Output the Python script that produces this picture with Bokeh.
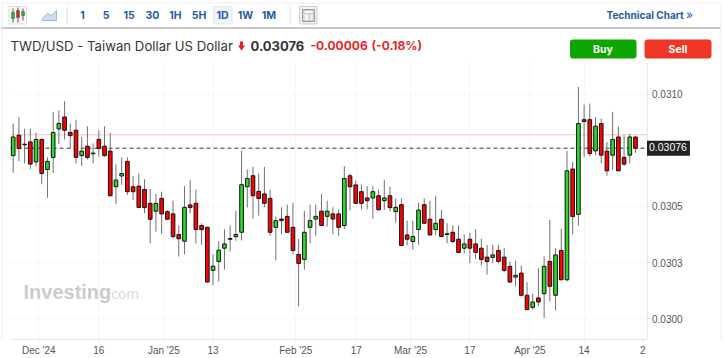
from bokeh.plotting import figure
from bokeh.layouts import column
from bokeh.models import Label, FixedTicker, ColumnDataSource, Range1d, LinearAxis
from bokeh.core.properties import value
from bokeh.embed import file_html
from bokeh.resources import INLINE

opens = [0.030727,0.030818,0.030778,0.030788,0.030699,0.030799,0.030665,0.030719,0.030846,0.030899,
0.030830,0.030840,0.030727,0.030769,0.030738,0.030799,0.030769,0.030747,0.030588,0.030636,
0.030701,0.030588,0.030591,0.030576,0.030514,0.030479,0.030536,0.030477,0.030467,0.030375,
0.030345,0.030507,0.030514,0.030415,0.030407,0.030215,0.030255,0.030314,0.030357,0.030366,
0.030385,0.030588,0.030637,0.030567,0.030556,0.030536,0.030407,0.030444,0.030456,0.030407,
0.030286,0.030264,0.030407,0.030444,0.030479,0.030456,0.030467,0.030467,0.030415,0.030637,
0.030596,0.030566,0.030538,0.030538,0.030548,0.030526,0.030548,0.030477,0.030508,0.030373,
0.030344,0.030397,0.030508,0.030443,0.030397,0.030443,0.030378,0.030385,0.030354,0.030314,
0.030354,0.030333,0.030314,0.030274,0.030273,0.030304,0.030274,0.030233,0.030185,0.030203,
0.030104,0.030050,0.030092,0.030111,0.030255,0.030104,0.030304,0.030173,0.030667,0.030465,
0.030887,0.030887,0.030748,0.030870,0.030747,0.030729,0.030810,0.030719,0.030729,0.030810]
closes = [0.030810,0.030759,0.030775,0.030689,0.030799,0.030647,0.030701,0.030830,0.030870,0.030840,
0.030816,0.030719,0.030747,0.030719,0.030735,0.030759,0.030727,0.030548,0.030618,0.030647,
0.030566,0.030566,0.030496,0.030495,0.030443,0.030514,0.030467,0.030443,0.030366,0.030356,
0.030496,0.030495,0.030397,0.030397,0.030163,0.030234,0.030305,0.030333,0.030354,0.030375,
0.030597,0.030625,0.030548,0.030536,0.030514,0.030385,0.030437,0.030437,0.030385,0.030304,
0.030246,0.030385,0.030437,0.030456,0.030415,0.030479,0.030444,0.030407,0.030625,0.030588,
0.030514,0.030514,0.030526,0.030566,0.030485,0.030538,0.030495,0.030496,0.030326,0.030354,
0.030366,0.030484,0.030425,0.030373,0.030425,0.030366,0.030375,0.030344,0.030295,0.030333,
0.030314,0.030295,0.030264,0.030255,0.030284,0.030255,0.030215,0.030163,0.030193,0.030104,
0.030040,0.030074,0.030074,0.030233,0.030144,0.030284,0.030173,0.030659,0.030455,0.030870,
0.030879,0.030736,0.030858,0.030729,0.030659,0.030799,0.030659,0.030689,0.030810,0.030760]
highs = [0.030870,0.030899,0.030847,0.030847,0.030828,0.030803,0.030719,0.030922,0.030929,0.030970,
0.030870,0.030887,0.030810,0.030858,0.030781,0.030840,0.030858,0.030828,0.030689,0.030719,
0.030719,0.030637,0.030647,0.030621,0.030578,0.030556,0.030566,0.030485,0.030526,0.030415,
0.030591,0.030618,0.030576,0.030425,0.030410,0.030287,0.030344,0.030399,0.030415,0.030480,
0.030748,0.030665,0.030677,0.030647,0.030677,0.030576,0.030455,0.030496,0.030508,0.030516,
0.030356,0.030480,0.030508,0.030508,0.030556,0.030526,0.030496,0.030487,0.030680,0.030647,
0.030615,0.030599,0.030591,0.030591,0.030576,0.030618,0.030588,0.030536,0.030536,0.030437,
0.030437,0.030517,0.030536,0.030526,0.030548,0.030484,0.030425,0.030415,0.030415,0.030375,
0.030384,0.030399,0.030356,0.030329,0.030329,0.030329,0.030314,0.030255,0.030258,0.030236,
0.030163,0.030111,0.030225,0.030277,0.030440,0.030314,0.030400,0.030748,0.030699,0.031033,
0.030954,0.030959,0.030899,0.030892,0.030788,0.030922,0.030858,0.030818,0.030825,0.030813]
lows = [0.030650,0.030702,0.030692,0.030667,0.030680,0.030599,0.030539,0.030650,0.030778,0.030799,
0.030759,0.030692,0.030681,0.030710,0.030692,0.030722,0.030722,0.030544,0.030510,0.030596,
0.030551,0.030529,0.030492,0.030470,0.030336,0.030388,0.030378,0.030440,0.030357,0.030277,
0.030287,0.030470,0.030336,0.030329,0.030161,0.030148,0.030166,0.030218,0.030299,0.030347,
0.030348,0.030496,0.030446,0.030459,0.030496,0.030369,0.030259,0.030376,0.030384,0.030287,
0.030055,0.030218,0.030336,0.030369,0.030414,0.030410,0.030376,0.030369,0.030400,0.030482,
0.030511,0.030487,0.030487,0.030446,0.030484,0.030484,0.030477,0.030428,0.030325,0.030327,
0.030307,0.030329,0.030424,0.030372,0.030373,0.030365,0.030336,0.030336,0.030292,0.030292,
0.030247,0.030265,0.030237,0.030196,0.030247,0.030247,0.030206,0.030159,0.030144,0.030099,
0.030039,0.030039,0.030055,0.030003,0.030077,0.030037,0.030172,0.030166,0.030376,0.030415,
0.030722,0.030724,0.030729,0.030692,0.030637,0.030662,0.030658,0.030681,0.030692,0.030739]

x_tick_positions = [4.48,15.0,26.4,35.0,49.5,60.1,69.6,80.0,90.5,100.0,110.3]
x_tick_labels = ["Dec '24","16","Jan '25","13","Feb '25","17","Mar '25","17","Apr '25","14","2"]
y_ticks = [0.0300,0.03025,0.0305,0.0310]
y_tick_labels = ["0.0300","0.0303","0.0305","0.0310"]
last_price = 0.03076
prior_close = 0.03082

idx = list(range(len(opens)))
body_top = [max(o,c) for o,c in zip(opens,closes)]
body_bot = [min(o,c) for o,c in zip(opens,closes)]
fills = ["#2bd92b" if c>o else "#ff0000" for o,c in zip(opens,closes)]
src = ColumnDataSource(dict(x=idx,top=body_top,bottom=body_bot,high=highs,low=lows,fill=fills))

# ---------- header ----------
BLUE="#1f5ca6"
h = figure(width=723,height=62,x_range=Range1d(0,723),y_range=Range1d(62,0),
           output_backend="svg",toolbar_location=None,min_border=0,
           x_axis_type=None,y_axis_type=None,outline_line_color=None)
h.frame_align=False
h.grid.visible=False
h.segment([1],[2.5],[720],[2.5],line_color="#eeeeee",line_width=1)
h.segment([0],[27.5],[720],[27.5],line_color="#b5b5b5",line_width=1.5)
h.segment([1.5,720.5],[2,2],[1.5,720.5],[62,62],line_color="#eeeeee",line_width=1)
h.segment([66.5,289.5],[6,6],[66.5,289.5],[24,24],line_color="#dddddd",line_width=1)
h.quad(left=[8.5],right=[26],top=[6],bottom=[23.5],fill_color="#f8f8f8",line_color="#dddddd")
h.segment([12.5,17.5,22.5],[8,7,8],[12.5,17.5,22.5],[22,22,20],line_color="#555555")
h.quad(left=[11,16,21],right=[14,19,24],top=[12,10,11],bottom=[18,17,15],
       fill_color=["#2bb52b","#dd2222","#2bb52b"],line_color="#555555",line_width=0.5)
h.patch([42,47,51,56,56,42],[18,13,15,10,20,20],fill_color="#cfdcec",line_color="#9db7d6")
h.quad(left=[213],right=[231.5],top=[6],bottom=[23.5],fill_color="#f3f4f6",line_color="#e6e6e6")
h.quad(left=[299],right=[316.5],top=[6],bottom=[23.5],fill_color="#f2f2f2",line_color="#cfcfcf")
h.quad(left=[302],right=[314],top=[9],bottom=[21],fill_color="#d0d0d0",line_color="#9a9a9a")
h.quad(left=[304,304,310],right=[312,308,312],top=[10.5,14,14],bottom=[12.5,19.5,19.5],fill_color="#f5f5f5",line_color=None)
tf = ["1","5","15","30","1H","5H","1D","1W","1M"]
tx = [82,105.5,128.5,152,175,198.5,222,245,268.5]
h.text(tx,[14.5]*9,text=tf,text_font=value("Inter"),text_font_size="10.5px",text_font_style="bold",
       text_color=BLUE,text_align="center",text_baseline="middle")
h.text([606],[14.5],text=["Technical Chart"],text_font=value("Inter"),text_font_size="10px",text_font_style="bold",
       text_color=BLUE,text_align="left",text_baseline="middle")
h.text([689],[14],text=["»"],text_font=value("Inter"),text_font_size="12px",text_color=BLUE,text_align="center",text_baseline="middle")
h.text([10],[45],text=["TWD/USD - Taiwan Dollar US Dollar"],text_font=value("Inter"),text_font_size="13.2px",
       text_color="#333333",text_align="left",text_baseline="middle")
h.patch([237.5,244.5,241],[45,45,50],fill_color="#e0201c",line_color=None)
h.quad(left=[239.5],right=[242.5],top=[41],bottom=[46],fill_color="#e0201c",line_color=None)
h.text([250],[45],text=["0.03076"],text_font=value("Inter"),text_font_size="13px",text_font_style="bold",
       text_color="#333333",text_align="left",text_baseline="middle")
h.text([310],[45],text=["-0.00006"],text_font=value("Inter"),text_font_size="12px",text_font_style="bold",
       text_color="#e8261c",text_align="left",text_baseline="middle")
h.text([371],[45],text=["(-0.18%)"],text_font=value("Inter"),text_font_size="12px",text_font_style="bold",
       text_color="#e8261c",text_align="left",text_baseline="middle")
h.quad(left=[569.5,644],right=[636,711],top=[39,39],bottom=[58,58],fill_color=["#0ea600","#ef3526"],line_color=None,
       border_radius=3)
h.text([602.5,677.5],[48.5,48.5],text=["Buy","Sell"],text_font=value("Inter"),text_font_size="10.5px",text_font_style="bold",
       text_color="#ffffff",text_align="center",text_baseline="middle")

# ---------- chart ----------
SPACING=5.709
def xi(px):
    return (px-12.7)/SPACING
XL,XR=xi(10),xi(646.5)
YB,YT=0.03+(319-340)/225000,0.03+(319-62)/225000
p = figure(width=723,height=296,x_range=Range1d(xi(0),xi(723)),y_range=Range1d(YB,YT),
           output_backend="svg",toolbar_location=None,
           min_border_left=0,min_border_right=0,min_border_top=0,min_border_bottom=18,
           y_axis_type=None,x_axis_location="below",outline_line_color=None)
p.frame_align=False
AX="#e3e6ec"
GR="#f6f7f9"
yax=LinearAxis(fixed_location=XR)
p.add_layout(yax,"right")
p.xaxis.ticker=FixedTicker(ticks=x_tick_positions)
p.xaxis.major_label_overrides=dict(zip(x_tick_positions,x_tick_labels))
p.xaxis.bounds=(XL,XR)
yax.ticker=FixedTicker(ticks=y_ticks)
yax.major_label_overrides=dict(zip(y_ticks,y_tick_labels))
for ax in (p.xaxis[0],yax):
    ax.axis_line_color=AX
    ax.major_tick_line_color=AX
    ax.major_tick_out=3
    ax.major_tick_in=0
    ax.minor_tick_line_color=None
    ax.major_label_text_font="Liberation Sans"
    ax.major_label_text_font_size="10px"
    ax.major_label_text_color="#555555"
    ax.major_label_standoff=2
p.xgrid.grid_line_color=GR
# horizontal grid lines, confined to the plotting area
p.segment([XL]*len(y_ticks),y_ticks,[XR]*len(y_ticks),y_ticks,line_color=GR,line_width=1)
p.segment([xi(1.5),xi(720.5)],[YB,YB],[xi(1.5),xi(720.5)],[YT,YT],line_color="#eeeeee",line_width=1)
p.segment([XL],[prior_close],[XR],[prior_close],line_color="#ffd3d3",line_width=1.5)
p.segment([XL],[last_price],[XR],[last_price],line_color="#333333",line_width=1,line_dash="4 3")
p.segment("x","high","x","low",source=src,line_color="#707070",line_width=1)
p.vbar(x="x",top="top",bottom="bottom",width=0.64,source=src,fill_color="fill",line_color="#111111",line_width=1)

p.add_layout(Label(x=xi(23),y=0.03007,text="Investing",text_font="Liberation Sans",
                   text_font_size="20px",text_font_style="bold",text_color="#cccccc"))
p.add_layout(Label(x=xi(107),y=0.03007,text=".com",text_font="Open Sans",
                   text_font_size="14px",text_color="#d8d8d8"))
p.add_layout(Label(x=XR,y=last_price,text="0.03076",text_font="Liberation Sans",
                   text_font_size="10.5px",text_color="#ffffff",text_baseline="middle",
                   background_fill_color="#222222",background_fill_alpha=1.0,padding=(2,3,2,5),level="overlay"))

page = column(h,p,spacing=0,margin=(0,-8,-8,0))
open("out.html","w").write(file_html(page,INLINE))
